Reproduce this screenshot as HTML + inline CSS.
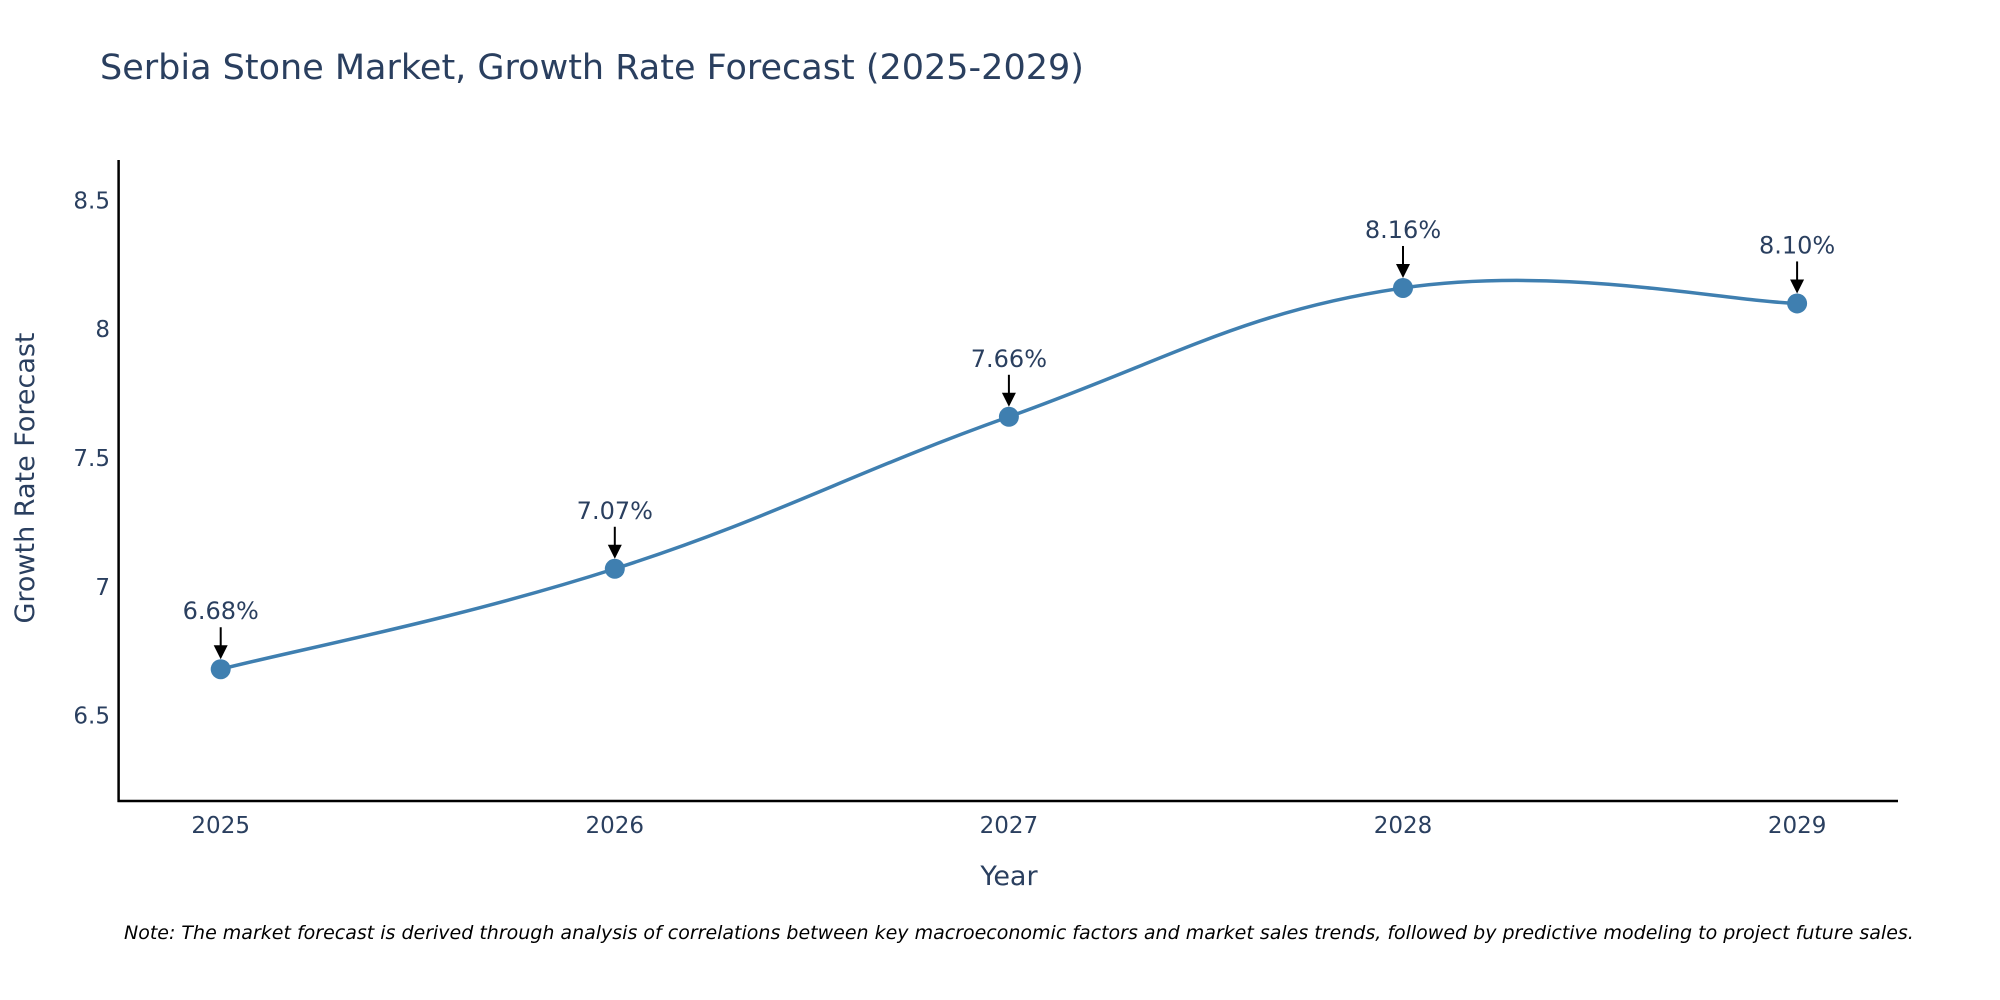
<!DOCTYPE html>
<html><head><meta charset="utf-8"><style>
html,body{margin:0;padding:0;background:#fff;}
svg{display:block;font-family:"DejaVu Sans","Liberation Sans",sans-serif;}
</style></head><body>
<svg id="chart" width="2000" height="1000" viewBox="0 0 2000 1000">
<text x="100" y="79" font-size="35" fill="#2a3f5f">Serbia Stone Market, Growth Rate Forecast (2025-2029)</text>
<g id="yticks"></g>
<g id="xticks"></g>
<line x1="118.6" y1="160" x2="118.6" y2="802" stroke="#000" stroke-width="2.5"/>
<line x1="117.5" y1="801" x2="1898" y2="801" stroke="#000" stroke-width="2.5"/>
<text x="1009" y="885" font-size="27" fill="#2a3f5f" text-anchor="middle">Year</text>
<text x="0" y="0" font-size="27" fill="#2a3f5f" text-anchor="middle" transform="translate(34,478) rotate(-90)">Growth Rate Forecast</text>
<g id="series"></g>
<text x="124" y="939" font-size="19" font-style="italic" fill="#000">Note: The market forecast is derived through analysis of correlations between key macroeconomic factors and market sales trends, followed by predictive modeling to project future sales.</text>
</svg>
<script>
const years = [2025, 2026, 2027, 2028, 2029];
const values = [6.68, 7.07, 7.66, 8.16, 8.10];
const labels = ["6.68%", "7.07%", "7.66%", "8.16%", "8.10%"];
const yTickValues = [6.5, 7, 7.5, 8, 8.5];
const yTickLabels = ["6.5", "7", "7.5", "8", "8.5"];

const NS = "http://www.w3.org/2000/svg";
function xs(v){ return 220.7 + (v - 2025) * 394.1; }
function ys(v){ return 715.6 - (v - 6.5) * 257.6; }
function mk(tag, attrs, parent){ const e = document.createElementNS(NS, tag); for (const k in attrs) e.setAttribute(k, attrs[k]); parent.appendChild(e); return e; }

const yt = document.getElementById("yticks");
yTickValues.forEach((v, i) => {
  const t = mk("text", {x: 110, y: ys(v) + 8, "font-size": 23, fill: "#2a3f5f", "text-anchor": "end"}, yt);
  
  
  t.textContent = yTickLabels[i];
});
const xt = document.getElementById("xticks");
years.forEach(y => {
  const t = mk("text", {x: xs(y), y: 833, "font-size": 23, fill: "#2a3f5f", "text-anchor": "middle"}, xt);
  
  
  t.textContent = String(y);
});

const g = document.getElementById("series");
const pts = years.map((y, i) => [xs(y), ys(values[i])]);
let d = "M" + pts[0][0] + "," + pts[0][1];
const s = 0.2;
for (let i = 0; i < pts.length - 1; i++) {
  const p0 = pts[Math.max(i - 1, 0)], p1 = pts[i], p2 = pts[i + 1], p3 = pts[Math.min(i + 2, pts.length - 1)];
  const c1 = [p1[0] + (p2[0] - p0[0]) * s, p1[1] + (p2[1] - p0[1]) * s];
  const c2 = [p2[0] - (p3[0] - p1[0]) * s, p2[1] - (p3[1] - p1[1]) * s];
  d += " C" + c1 + " " + c2 + " " + p2;
}
const line = mk("path", {d: d, fill: "none", stroke: "#3f7fb0", "stroke-width": 3.5}, g);



pts.forEach((p, i) => {
  const c = mk("circle", {cx: p[0], cy: p[1], r: 10, fill: "#3f7fb0"}, g);
  
  
  const a = mk("line", {x1: p[0], y1: p[1] - 42, x2: p[0], y2: p[1] - 22, stroke: "#000", "stroke-width": 2}, g);
  
  
  const h = mk("polygon", {points: (p[0] - 7) + "," + (p[1] - 24) + " " + (p[0] + 7) + "," + (p[1] - 24) + " " + p[0] + "," + (p[1] - 10), fill: "#000"}, g);
  
  
  const t = mk("text", {x: p[0], y: p[1] - 50, "font-size": 24, fill: "#2a3f5f", "text-anchor": "middle"}, g);
  
  
  t.textContent = labels[i];
});
</script>
</body></html>
